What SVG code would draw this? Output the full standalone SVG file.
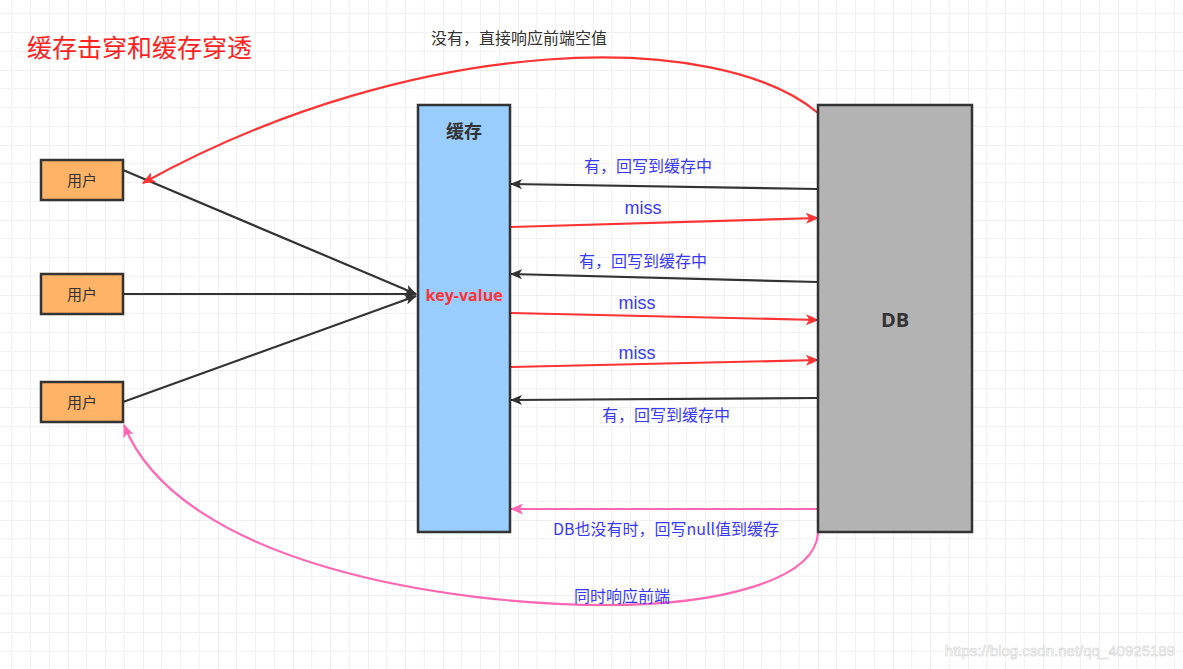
<svg xmlns="http://www.w3.org/2000/svg" width="1183" height="669" viewBox="0 0 1183 669">
<style>
.cjk{font-family:"Noto Sans CJK SC","Liberation Sans",sans-serif}
.lbl{font-family:"Noto Sans CJK SC","Liberation Sans",sans-serif;font-size:16px;fill:#3838ff;text-anchor:middle}
.miss{font-family:"Liberation Sans","Noto Sans CJK SC",sans-serif;font-size:18px;fill:#3838ff;text-anchor:middle}
.box{stroke:#333;stroke-width:2.5}
.dk{stroke:#333;stroke-width:2.2;fill:none}
.rd{stroke:#ff3333;stroke-width:2.2;fill:none}
.pk{stroke:#ff66b3;stroke-width:2.2;fill:none}
.usr{font-family:"Noto Sans CJK SC","Liberation Sans",sans-serif;font-size:15px;fill:#333;text-anchor:middle}
</style>
<defs>
<pattern id="grid" patternUnits="userSpaceOnUse" x="-7" y="-5" width="75" height="75">
<path d="M18.75 0V75M37.5 0V75M56.25 0V75M0 18.75H75M0 37.5H75M0 56.25H75" stroke="#f1f1f1" stroke-width="1"/>
<path d="M0 0V75M0 0H75" stroke="#e2e2e2" stroke-width="1"/>
</pattern>
<marker id="aD" viewBox="0 0 12 10" refX="11" refY="5" markerWidth="12" markerHeight="10" markerUnits="userSpaceOnUse" orient="auto"><path d="M0 0L12 5L0 10L3 5z" fill="#333"/></marker>
<marker id="aR" viewBox="0 0 12 10" refX="11" refY="5" markerWidth="14" markerHeight="11" markerUnits="userSpaceOnUse" orient="auto"><path d="M0 0L12 5L0 10L3 5z" fill="#ff3333"/></marker>
<marker id="aP" viewBox="0 0 12 10" refX="11" refY="5" markerWidth="14" markerHeight="11" markerUnits="userSpaceOnUse" orient="auto"><path d="M0 0L12 5L0 10L3 5z" fill="#ff66b3"/></marker>
</defs>
<rect width="1183" height="669" fill="#fff"/>
<rect width="1183" height="669" fill="url(#grid)"/>
<text x="27" y="57" class="cjk" font-size="25" fill="#ff2020">缓存击穿和缓存穿透</text>
<g id="connectors">
<path class="dk" d="M123 170L416 294" marker-end="url(#aD)"/>
<path class="dk" d="M123 294L416 294" marker-end="url(#aD)"/>
<path class="dk" d="M123 402L416 296" marker-end="url(#aD)"/>
<path class="rd" d="M818 113C720 30 420 30 143 183" marker-end="url(#aR)"/>
<path class="dk" d="M818 189L511 184" marker-end="url(#aD)"/>
<path class="rd" d="M511 227L818 218" marker-end="url(#aR)"/>
<path class="dk" d="M818 282L511 274" marker-end="url(#aD)"/>
<path class="rd" d="M511 313L818 320" marker-end="url(#aR)"/>
<path class="rd" d="M511 367L818 360" marker-end="url(#aR)"/>
<path class="dk" d="M818 398L511 400" marker-end="url(#aD)"/>
<path class="pk" d="M818 509L511 509" marker-end="url(#aP)"/>
<path class="pk" d="M818 533C815 580 720 605 607 605C450 605 180 565 124 425" marker-end="url(#aP)"/>
<text x="519" y="44" class="cjk" font-size="16" fill="#333" text-anchor="middle">没有，直接响应前端空值</text>
<text x="648" y="172" class="lbl">有，回写到缓存中</text>
<text x="643" y="214" class="miss">miss</text>
<text x="643" y="267" class="lbl">有，回写到缓存中</text>
<text x="637" y="309" class="miss">miss</text>
<text x="637" y="359" class="miss">miss</text>
<text x="666" y="421" class="lbl">有，回写到缓存中</text>
<text x="666" y="535" class="lbl">DB也没有时，回写null值到缓存</text>
<text x="622" y="602" class="lbl">同时响应前端</text>
</g>
<g id="user1"><rect class="box" x="41" y="160" width="82" height="40" fill="#ffb366"/><text x="82" y="186" class="usr">用户</text></g>
<g id="user2"><rect class="box" x="41" y="274" width="82" height="40" fill="#ffb366"/><text x="82" y="300" class="usr">用户</text></g>
<g id="user3"><rect class="box" x="41" y="382" width="82" height="40" fill="#ffb366"/><text x="82" y="408" class="usr">用户</text></g>
<g id="cache"><rect class="box" x="418" y="105" width="92" height="427" fill="#99ccff"/><text x="464" y="138" class="cjk" font-size="18" font-weight="bold" fill="#333" text-anchor="middle">缓存</text><text x="464" y="301" font-family="Open Sans,Liberation Sans,sans-serif" font-size="16" font-weight="bold" fill="#ff3333" text-anchor="middle">key-value</text></g>
<g id="db"><rect class="box" x="818" y="105" width="154" height="427" fill="#b3b3b3"/><text x="895" y="327" font-family="Open Sans,Liberation Sans,sans-serif" font-size="20" font-weight="bold" fill="#333" text-anchor="middle">DB</text></g>
<text x="1175" y="656" font-family="Liberation Sans,sans-serif" font-size="15" fill="#fff" stroke="#d4d4d4" stroke-width="0.6" text-anchor="end">https://blog.csdn.net/qq_40925189</text>
</svg>
